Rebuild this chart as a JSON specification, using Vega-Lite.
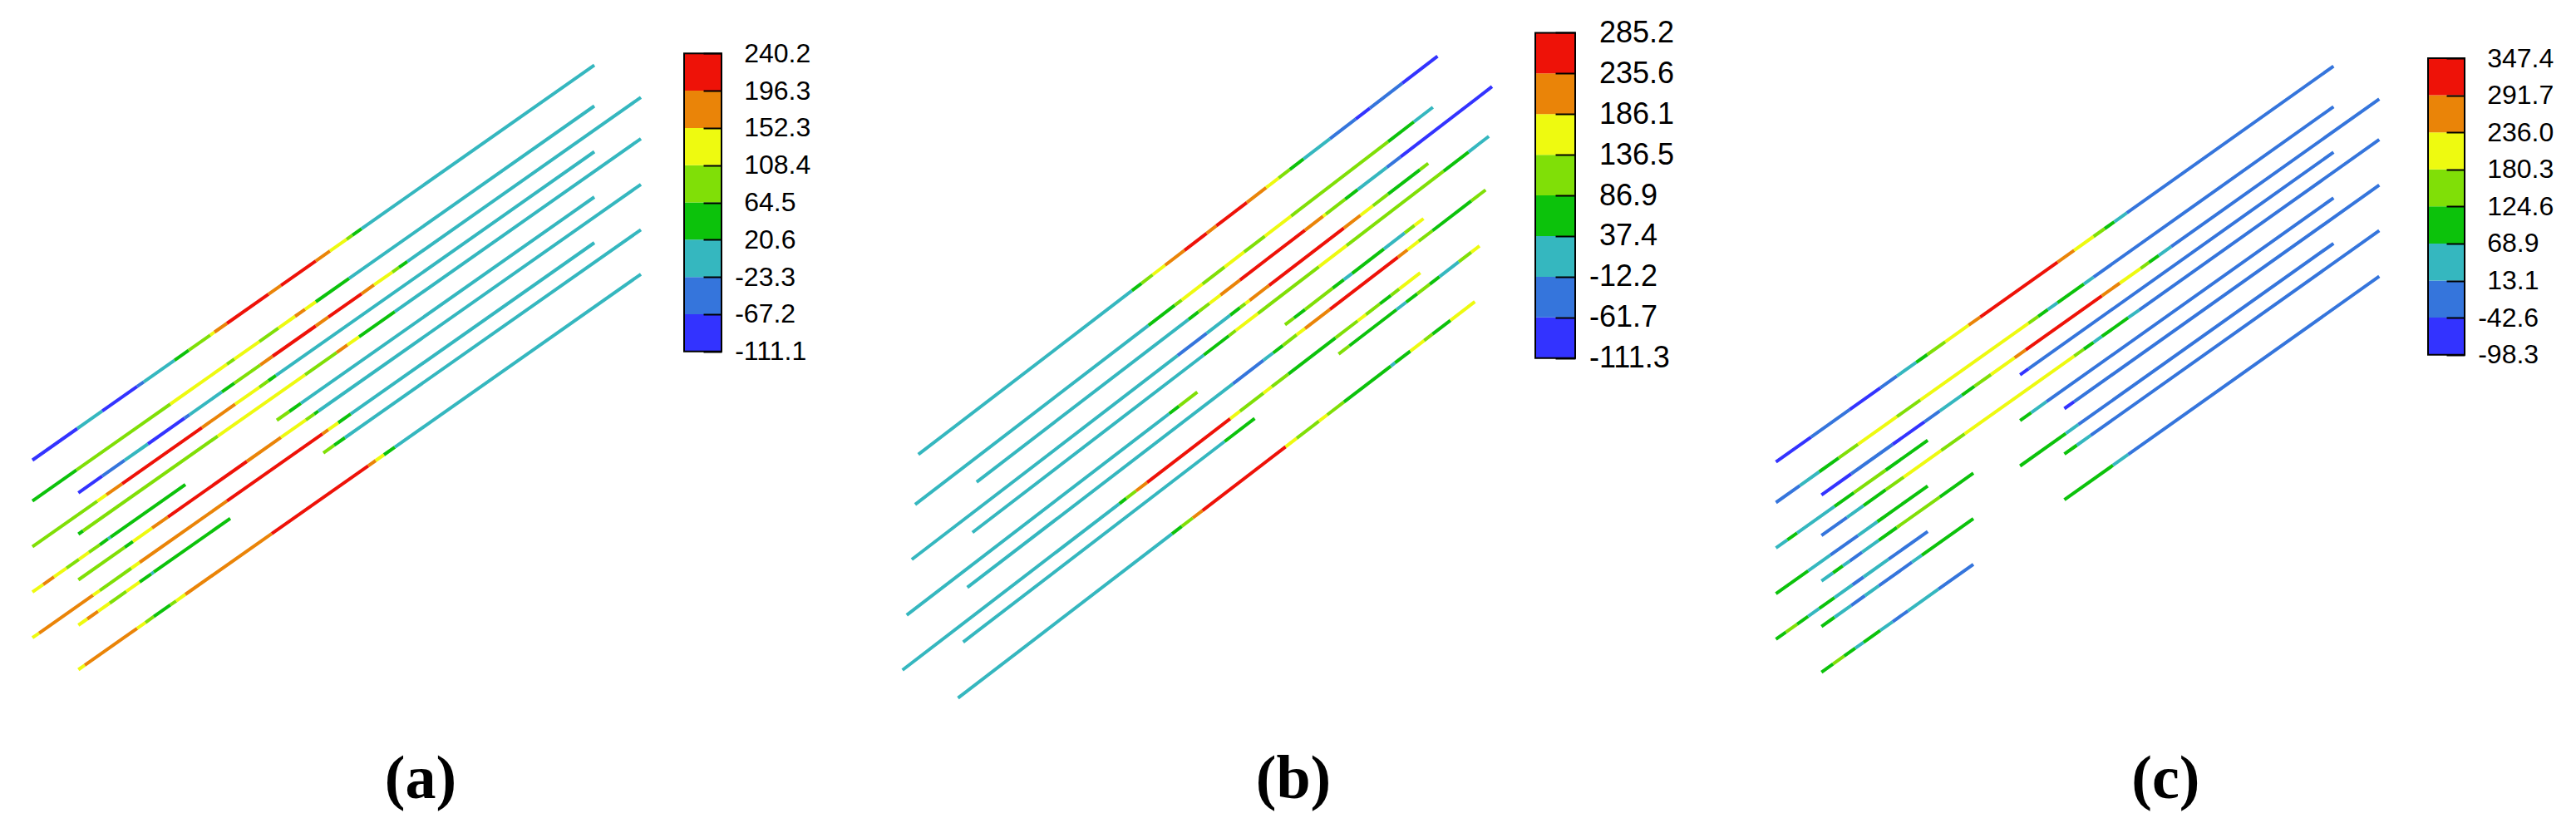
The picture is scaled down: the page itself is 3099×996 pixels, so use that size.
{
  "$schema": "https://vega.github.io/schema/vega-lite/v6.json",
  "padding": 0,
  "spacing": 0,
  "bounds": "flush",
  "config": {"view": {"stroke": null}},
  "datasets": {
    "pa": [
      {"l":"A1","x":39,"y":553.5,"c":"b1"},{"l":"A1","x":93,"y":515.5,"c":"cy"},{"l":"A1","x":123,"y":494.4,"c":"b1"},{"l":"A1","x":165,"y":464.9,"c":"b2"},{"l":"A1","x":173,"y":459.3,"c":"cy"},{"l":"A1","x":210,"y":433.3,"c":"gr"},{"l":"A1","x":227,"y":421.3,"c":"yg"},{"l":"A1","x":253,"y":403.1,"c":"ye"},{"l":"A1","x":258,"y":399.5,"c":"or"},{"l":"A1","x":273,"y":389.0,"c":"rd"},{"l":"A1","x":323,"y":353.8,"c":"or"},{"l":"A1","x":338,"y":343.3,"c":"rd"},{"l":"A1","x":380,"y":313.8,"c":"or"},{"l":"A1","x":397,"y":301.8,"c":"ye"},{"l":"A1","x":417,"y":287.8,"c":"yg"},{"l":"A1","x":424,"y":282.8,"c":"gr"},{"l":"A1","x":435,"y":275.1,"c":"cy"},{"l":"A1","x":715,"y":78.3,"c":null},
      {"l":"A2","x":39,"y":602.7,"c":"gr"},{"l":"A2","x":92,"y":565.4,"c":"yg"},{"l":"A2","x":205,"y":486.0,"c":"ye"},{"l":"A2","x":273,"y":438.2,"c":"yg"},{"l":"A2","x":282,"y":431.9,"c":"ye"},{"l":"A2","x":312,"y":410.8,"c":"yg"},{"l":"A2","x":335,"y":394.6,"c":"ye"},{"l":"A2","x":355,"y":380.5,"c":"or"},{"l":"A2","x":367,"y":372.1,"c":"ye"},{"l":"A2","x":380,"y":363.0,"c":"gr"},{"l":"A2","x":420,"y":334.9,"c":"cy"},{"l":"A2","x":715,"y":127.5,"c":null},
      {"l":"B1","x":94.3,"y":592.8,"c":"b1"},{"l":"B1","x":123,"y":572.6,"c":"b2"},{"l":"B1","x":150,"y":553.6,"c":"cy"},{"l":"B1","x":178,"y":534.0,"c":"b1"},{"l":"B1","x":222,"y":503.0,"c":"b2"},{"l":"B1","x":228,"y":498.8,"c":"cy"},{"l":"B1","x":267,"y":471.4,"c":"gr"},{"l":"B1","x":282,"y":460.8,"c":"yg"},{"l":"B1","x":313,"y":439.1,"c":"or"},{"l":"B1","x":328,"y":428.5,"c":"rd"},{"l":"B1","x":380,"y":392.0,"c":"or"},{"l":"B1","x":395,"y":381.4,"c":"rd"},{"l":"B1","x":435,"y":353.3,"c":"or"},{"l":"B1","x":450,"y":342.7,"c":"ye"},{"l":"B1","x":472,"y":327.3,"c":"yg"},{"l":"B1","x":480,"y":321.7,"c":"gr"},{"l":"B1","x":490,"y":314.6,"c":"cy"},{"l":"B1","x":771,"y":117.1,"c":null},
      {"l":"A3","x":39,"y":657.7,"c":"yg"},{"l":"A3","x":117,"y":602.9,"c":"ye"},{"l":"A3","x":128,"y":595.1,"c":"or"},{"l":"A3","x":147,"y":581.8,"c":"rd"},{"l":"A3","x":243,"y":514.3,"c":"or"},{"l":"A3","x":283,"y":486.2,"c":"ye"},{"l":"A3","x":312,"y":465.8,"c":"yg"},{"l":"A3","x":323,"y":458.0,"c":"gr"},{"l":"A3","x":332,"y":451.7,"c":"cy"},{"l":"A3","x":715,"y":182.5,"c":null},
      {"l":"B2","x":94.3,"y":642.5,"c":"gr"},{"l":"B2","x":100,"y":638.5,"c":"yg"},{"l":"B2","x":262,"y":524.6,"c":"ye"},{"l":"B2","x":367,"y":450.8,"c":"yg"},{"l":"B2","x":405,"y":424.1,"c":"or"},{"l":"B2","x":418,"y":414.9,"c":"ye"},{"l":"B2","x":432,"y":405.1,"c":"gr"},{"l":"B2","x":475,"y":374.9,"c":"cy"},{"l":"B2","x":771,"y":166.8,"c":null},
      {"l":"A4","x":39,"y":712.2,"c":"ye"},{"l":"A4","x":52,"y":703.1,"c":"or"},{"l":"A4","x":65,"y":693.9,"c":"ye"},{"l":"A4","x":80,"y":683.4,"c":"yg"},{"l":"A4","x":95,"y":672.8,"c":"ye"},{"l":"A4","x":107,"y":664.4,"c":"yg"},{"l":"A4","x":120,"y":655.3,"c":"gr"},{"l":"A4","x":130,"y":648.2,"c":"cy"},{"l":"A4","x":133,"y":646.1,"c":"gr"},{"l":"A4","x":223,"y":582.8,"c":null},{"l":"A4","x":333,"y":505.5,"c":"yg"},{"l":"A4","x":348,"y":495.0,"c":"gr"},{"l":"A4","x":362,"y":485.1,"c":"cy"},{"l":"A4","x":715,"y":237.0,"c":null},
      {"l":"B3","x":94.3,"y":697.5,"c":"yg"},{"l":"B3","x":150,"y":658.3,"c":"gr"},{"l":"B3","x":160,"y":651.3,"c":"ye"},{"l":"B3","x":183,"y":635.1,"c":"or"},{"l":"B3","x":202,"y":621.8,"c":"rd"},{"l":"B3","x":297,"y":555.0,"c":"or"},{"l":"B3","x":338,"y":526.2,"c":"ye"},{"l":"B3","x":368,"y":505.1,"c":"yg"},{"l":"B3","x":378,"y":498.1,"c":"gr"},{"l":"B3","x":383,"y":494.5,"c":"cy"},{"l":"B3","x":771,"y":221.8,"c":null},
      {"l":"A5","x":39,"y":767.2,"c":"ye"},{"l":"A5","x":47,"y":761.6,"c":"or"},{"l":"A5","x":112,"y":715.9,"c":"ye"},{"l":"A5","x":120,"y":710.3,"c":"yg"},{"l":"A5","x":158,"y":683.5,"c":"ye"},{"l":"A5","x":168,"y":676.5,"c":"or"},{"l":"A5","x":273,"y":602.7,"c":"rd"},{"l":"A5","x":388,"y":521.9,"c":"or"},{"l":"A5","x":395,"y":516.9,"c":"ye"},{"l":"A5","x":407,"y":508.5,"c":"gr"},{"l":"A5","x":422,"y":497.9,"c":"cy"},{"l":"A5","x":715,"y":292.0,"c":null},
      {"l":"B4","x":94.3,"y":752.0,"c":"ye"},{"l":"B4","x":105,"y":744.5,"c":"or"},{"l":"B4","x":118,"y":735.3,"c":"ye"},{"l":"B4","x":132,"y":725.5,"c":"yg"},{"l":"B4","x":152,"y":711.4,"c":"ye"},{"l":"B4","x":168,"y":700.2,"c":"gr"},{"l":"B4","x":182,"y":690.3,"c":"cy"},{"l":"B4","x":185,"y":688.2,"c":"gr"},{"l":"B4","x":277,"y":623.6,"c":null},{"l":"B4","x":389,"y":544.8,"c":"yg"},{"l":"B4","x":402,"y":535.7,"c":"gr"},{"l":"B4","x":415,"y":526.5,"c":"cy"},{"l":"B4","x":771,"y":276.3,"c":null},
      {"l":"B5","x":94.3,"y":805.5,"c":"ye"},{"l":"B5","x":102,"y":800.1,"c":"or"},{"l":"B5","x":165,"y":755.8,"c":"ye"},{"l":"B5","x":175,"y":748.8,"c":"yg"},{"l":"B5","x":185,"y":741.7,"c":"gr"},{"l":"B5","x":205,"y":727.7,"c":"yg"},{"l":"B5","x":212,"y":722.8,"c":"ye"},{"l":"B5","x":223,"y":715.0,"c":"or"},{"l":"B5","x":327,"y":641.9,"c":"rd"},{"l":"B5","x":443,"y":560.4,"c":"or"},{"l":"B5","x":452,"y":554.0,"c":"ye"},{"l":"B5","x":462,"y":547.0,"c":"gr"},{"l":"B5","x":475,"y":537.9,"c":"cy"},{"l":"B5","x":771,"y":329.8,"c":null}
    ],
    "pb": [
      {"l":"A1","x":1104.8,"y":546.7,"c":"cy"},{"l":"A1","x":1361.7,"y":349.7,"c":"gr"},{"l":"A1","x":1373.3,"y":340.8,"c":"yg"},{"l":"A1","x":1386.7,"y":330.5,"c":"ye"},{"l":"A1","x":1401.7,"y":319.0,"c":"or"},{"l":"A1","x":1425,"y":301.1,"c":"rd"},{"l":"A1","x":1451.7,"y":280.6,"c":"or"},{"l":"A1","x":1463.3,"y":271.7,"c":"rd"},{"l":"A1","x":1500,"y":243.6,"c":"or"},{"l":"A1","x":1523.3,"y":225.7,"c":"ye"},{"l":"A1","x":1538.3,"y":214.2,"c":"yg"},{"l":"A1","x":1551.7,"y":203.9,"c":"gr"},{"l":"A1","x":1568.3,"y":191.2,"c":"cy"},{"l":"A1","x":1600,"y":166.9,"c":"b2"},{"l":"A1","x":1631,"y":143.1,"c":"b1"},{"l":"A1","x":1648,"y":130.1,"c":"b2"},{"l":"A1","x":1687,"y":100.2,"c":"b1"},{"l":"A1","x":1729.4,"y":67.6,"c":null},
      {"l":"A2","x":1100.9,"y":606.8,"c":"cy"},{"l":"A2","x":1381.7,"y":391.4,"c":"gr"},{"l":"A2","x":1413.3,"y":367.2,"c":"yg"},{"l":"A2","x":1421.7,"y":360.8,"c":"ye"},{"l":"A2","x":1446.7,"y":341.6,"c":"yg"},{"l":"A2","x":1473.3,"y":321.2,"c":"ye"},{"l":"A2","x":1496.7,"y":303.2,"c":"yg"},{"l":"A2","x":1521.7,"y":284.1,"c":"ye"},{"l":"A2","x":1553.3,"y":259.8,"c":"yg"},{"l":"A2","x":1670,"y":170.3,"c":"gr"},{"l":"A2","x":1701,"y":146.5,"c":"cy"},{"l":"A2","x":1723.8,"y":129.0,"c":null},
      {"l":"B1","x":1174.9,"y":579.8,"c":"cy"},{"l":"B1","x":1430,"y":384.1,"c":"gr"},{"l":"B1","x":1441.7,"y":375.2,"c":"yg"},{"l":"B1","x":1455,"y":365.0,"c":"ye"},{"l":"B1","x":1468.3,"y":354.8,"c":"or"},{"l":"B1","x":1491.7,"y":336.8,"c":"rd"},{"l":"B1","x":1570,"y":276.8,"c":"or"},{"l":"B1","x":1591.7,"y":260.1,"c":"ye"},{"l":"B1","x":1595,"y":257.6,"c":"yg"},{"l":"B1","x":1618.3,"y":239.7,"c":"gr"},{"l":"B1","x":1633.3,"y":228.2,"c":"cy"},{"l":"B1","x":1668.3,"y":201.4,"c":"b2"},{"l":"B1","x":1685,"y":188.6,"c":"b1"},{"l":"B1","x":1795,"y":104.2,"c":null},
      {"l":"A3","x":1096.9,"y":673.0,"c":"cy"},{"l":"A3","x":1416.7,"y":427.7,"c":"b2"},{"l":"A3","x":1451.7,"y":400.9,"c":"cy"},{"l":"A3","x":1480,"y":379.2,"c":"gr"},{"l":"A3","x":1491.7,"y":370.2,"c":"yg"},{"l":"A3","x":1498.3,"y":365.1,"c":"ye"},{"l":"A3","x":1503.3,"y":361.3,"c":"or"},{"l":"A3","x":1526.7,"y":343.3,"c":"rd"},{"l":"A3","x":1616.7,"y":274.3,"c":"or"},{"l":"A3","x":1636.7,"y":259.0,"c":"ye"},{"l":"A3","x":1651.7,"y":247.5,"c":"yg"},{"l":"A3","x":1670,"y":233.4,"c":"gr"},{"l":"A3","x":1708.3,"y":204.1,"c":"yg"},{"l":"A3","x":1718.2,"y":196.5,"c":null},
      {"l":"B2","x":1169.9,"y":640.5,"c":"cy"},{"l":"B2","x":1448.3,"y":427.0,"c":"gr"},{"l":"B2","x":1478.3,"y":404.0,"c":"yg"},{"l":"B2","x":1486.7,"y":397.5,"c":"ye"},{"l":"B2","x":1513.3,"y":377.1,"c":"yg"},{"l":"B2","x":1586.7,"y":320.8,"c":"ye"},{"l":"B2","x":1620,"y":295.3,"c":"yg"},{"l":"B2","x":1736.7,"y":205.8,"c":"gr"},{"l":"B2","x":1766.7,"y":182.8,"c":"cy"},{"l":"B2","x":1791.1,"y":164.0,"c":null},
      {"l":"A4","x":1090.8,"y":739.8,"c":"cy"},{"l":"A4","x":1406.7,"y":497.5,"c":"gr"},{"l":"A4","x":1418.3,"y":488.6,"c":"yg"},{"l":"A4","x":1440.4,"y":471.7,"c":null},{"l":"A4","x":1545.9,"y":390.7,"c":"yg"},{"l":"A4","x":1556.7,"y":382.5,"c":"gr"},{"l":"A4","x":1570,"y":372.3,"c":"yg"},{"l":"A4","x":1603.3,"y":346.7,"c":"gr"},{"l":"A4","x":1616.7,"y":336.4,"c":"cy"},{"l":"A4","x":1626.7,"y":328.8,"c":"gr"},{"l":"A4","x":1665,"y":299.4,"c":"cy"},{"l":"A4","x":1690,"y":280.2,"c":"yg"},{"l":"A4","x":1701.7,"y":271.2,"c":"ye"},{"l":"A4","x":1712.5,"y":263.0,"c":null},
      {"l":"B3","x":1163.7,"y":706.7,"c":"cy"},{"l":"B3","x":1483.3,"y":461.6,"c":"b2"},{"l":"B3","x":1520,"y":433.4,"c":"cy"},{"l":"B3","x":1531.7,"y":424.5,"c":"gr"},{"l":"B3","x":1543.3,"y":415.6,"c":"yg"},{"l":"B3","x":1560,"y":402.7,"c":"ye"},{"l":"B3","x":1570,"y":395.1,"c":"or"},{"l":"B3","x":1600,"y":372.1,"c":"rd"},{"l":"B3","x":1681.7,"y":309.4,"c":"or"},{"l":"B3","x":1693.3,"y":300.5,"c":"ye"},{"l":"B3","x":1706.7,"y":290.2,"c":"yg"},{"l":"B3","x":1723.3,"y":277.5,"c":"gr"},{"l":"B3","x":1770,"y":241.7,"c":"yg"},{"l":"B3","x":1787.2,"y":228.5,"c":null},
      {"l":"A5","x":1085.7,"y":806.0,"c":"cy"},{"l":"A5","x":1346.7,"y":605.8,"c":"gr"},{"l":"A5","x":1355,"y":599.4,"c":"yg"},{"l":"A5","x":1366.7,"y":590.5,"c":"or"},{"l":"A5","x":1380,"y":580.3,"c":"rd"},{"l":"A5","x":1480,"y":503.6,"c":"ye"},{"l":"A5","x":1491.7,"y":494.6,"c":"yg"},{"l":"A5","x":1520,"y":472.9,"c":"ye"},{"l":"A5","x":1530,"y":465.2,"c":"yg"},{"l":"A5","x":1550,"y":449.9,"c":"gr"},{"l":"A5","x":1606.7,"y":406.4,"c":"yg"},{"l":"A5","x":1633.3,"y":386.0,"c":"ye"},{"l":"A5","x":1643.3,"y":378.3,"c":"yg"},{"l":"A5","x":1660,"y":365.5,"c":"gr"},{"l":"A5","x":1673.3,"y":355.3,"c":"yg"},{"l":"A5","x":1683.3,"y":347.6,"c":"ye"},{"l":"A5","x":1708.6,"y":328.2,"c":null},
      {"l":"B4","x":1158.7,"y":772.3,"c":"cy"},{"l":"B4","x":1473.3,"y":531.0,"c":"gr"},{"l":"B4","x":1509.4,"y":503.3,"c":null},{"l":"B4","x":1610.4,"y":425.8,"c":"yg"},{"l":"B4","x":1623.3,"y":416.0,"c":"gr"},{"l":"B4","x":1680,"y":372.5,"c":"cy"},{"l":"B4","x":1691.7,"y":363.5,"c":"gr"},{"l":"B4","x":1705,"y":353.3,"c":"yg"},{"l":"B4","x":1720,"y":341.8,"c":"gr"},{"l":"B4","x":1731.7,"y":332.8,"c":"cy"},{"l":"B4","x":1755,"y":314.9,"c":"yg"},{"l":"B4","x":1770,"y":303.4,"c":"ye"},{"l":"B4","x":1779.9,"y":295.8,"c":null},
      {"l":"B5","x":1152.5,"y":839.7,"c":"cy"},{"l":"B5","x":1410,"y":642.2,"c":"gr"},{"l":"B5","x":1421.7,"y":633.2,"c":"yg"},{"l":"B5","x":1435,"y":623.0,"c":"or"},{"l":"B5","x":1446.7,"y":614.1,"c":"rd"},{"l":"B5","x":1546.7,"y":537.4,"c":"ye"},{"l":"B5","x":1560,"y":527.2,"c":"yg"},{"l":"B5","x":1586.7,"y":506.7,"c":"ye"},{"l":"B5","x":1596.7,"y":499.0,"c":"yg"},{"l":"B5","x":1616.7,"y":483.7,"c":"gr"},{"l":"B5","x":1673.3,"y":440.3,"c":"cy"},{"l":"B5","x":1678.3,"y":436.4,"c":"gr"},{"l":"B5","x":1696.7,"y":422.3,"c":"ye"},{"l":"B5","x":1713.3,"y":409.6,"c":"yg"},{"l":"B5","x":1723.3,"y":401.9,"c":"gr"},{"l":"B5","x":1745,"y":385.3,"c":"ye"},{"l":"B5","x":1774.3,"y":362.8,"c":null}
    ],
    "pc": [
      {"l":"A1","x":2136.2,"y":555.7,"c":"b1"},{"l":"A1","x":2178.3,"y":525.8,"c":"b2"},{"l":"A1","x":2225,"y":492.7,"c":"b1"},{"l":"A1","x":2261.7,"y":466.6,"c":"b2"},{"l":"A1","x":2281.7,"y":452.4,"c":"cy"},{"l":"A1","x":2305,"y":435.9,"c":"gr"},{"l":"A1","x":2318.3,"y":426.5,"c":"yg"},{"l":"A1","x":2340,"y":411.1,"c":"ye"},{"l":"A1","x":2368,"y":391.2,"c":"or"},{"l":"A1","x":2382,"y":381.3,"c":"rd"},{"l":"A1","x":2475,"y":315.3,"c":"or"},{"l":"A1","x":2495,"y":301.1,"c":"ye"},{"l":"A1","x":2518.3,"y":284.5,"c":"yg"},{"l":"A1","x":2531.7,"y":275.0,"c":"gr"},{"l":"A1","x":2543.3,"y":266.8,"c":"cy"},{"l":"A1","x":2558.3,"y":256.1,"c":"b2"},{"l":"A1","x":2807,"y":79.6,"c":null},
      {"l":"A2","x":2136.2,"y":604.5,"c":"b2"},{"l":"A2","x":2165,"y":584.1,"c":"cy"},{"l":"A2","x":2188.3,"y":567.5,"c":"gr"},{"l":"A2","x":2211.7,"y":550.9,"c":"yg"},{"l":"A2","x":2235,"y":534.4,"c":"ye"},{"l":"A2","x":2281.7,"y":501.2,"c":"yg"},{"l":"A2","x":2310,"y":481.2,"c":"ye"},{"l":"A2","x":2440,"y":388.9,"c":"yg"},{"l":"A2","x":2451.7,"y":380.6,"c":"gr"},{"l":"A2","x":2463.3,"y":372.4,"c":"cy"},{"l":"A2","x":2475,"y":364.1,"c":"gr"},{"l":"A2","x":2506.7,"y":341.6,"c":"cy"},{"l":"A2","x":2518.3,"y":333.3,"c":"b2"},{"l":"A2","x":2807,"y":128.4,"c":null},
      {"l":"B1","x":2191,"y":595.3,"c":"b1"},{"l":"B1","x":2226.7,"y":570.0,"c":"b2"},{"l":"B1","x":2276.7,"y":534.5,"c":"b1"},{"l":"B1","x":2315,"y":507.3,"c":"b2"},{"l":"B1","x":2333.3,"y":494.3,"c":"cy"},{"l":"B1","x":2360,"y":475.4,"c":"gr"},{"l":"B1","x":2375,"y":464.7,"c":"yg"},{"l":"B1","x":2395,"y":450.5,"c":"ye"},{"l":"B1","x":2423.3,"y":430.4,"c":"or"},{"l":"B1","x":2436.7,"y":420.9,"c":"rd"},{"l":"B1","x":2528.3,"y":355.9,"c":"or"},{"l":"B1","x":2550,"y":340.5,"c":"ye"},{"l":"B1","x":2575,"y":322.8,"c":"yg"},{"l":"B1","x":2585,"y":315.7,"c":"gr"},{"l":"B1","x":2596.7,"y":307.4,"c":"cy"},{"l":"B1","x":2611.7,"y":296.7,"c":"b2"},{"l":"B1","x":2862,"y":119.1,"c":null},
      {"l":"B2","x":2191,"y":644.1,"c":"b2"},{"l":"B2","x":2221.7,"y":622.3,"c":"cy"},{"l":"B2","x":2241.7,"y":608.1,"c":"gr"},{"l":"B2","x":2268.3,"y":589.2,"c":"yg"},{"l":"B2","x":2290,"y":573.8,"c":"ye"},{"l":"B2","x":2335,"y":541.9,"c":"yg"},{"l":"B2","x":2363.3,"y":521.8,"c":"ye"},{"l":"B2","x":2495,"y":428.4,"c":"yg"},{"l":"B2","x":2506.7,"y":420.0,"c":"gr"},{"l":"B2","x":2518.3,"y":411.8,"c":"cy"},{"l":"B2","x":2528.3,"y":404.7,"c":"gr"},{"l":"B2","x":2560,"y":382.2,"c":"cy"},{"l":"B2","x":2573.3,"y":372.8,"c":"b2"},{"l":"B2","x":2862,"y":167.9,"c":null},
      {"l":"A3","x":2136.2,"y":659.2,"c":"cy"},{"l":"A3","x":2150,"y":649.4,"c":"gr"},{"l":"A3","x":2161.7,"y":641.1,"c":"cy"},{"l":"A3","x":2206.7,"y":609.2,"c":"gr"},{"l":"A3","x":2230,"y":592.6,"c":"yg"},{"l":"A3","x":2268.3,"y":565.5,"c":"gr"},{"l":"A3","x":2318.8,"y":529.6,"c":null},{"l":"A3","x":2429.9,"y":450.8,"c":"b1"},{"l":"A3","x":2440,"y":443.6,"c":"b2"},{"l":"A3","x":2807,"y":183.1,"c":null},
      {"l":"B3","x":2191,"y":698.9,"c":"cy"},{"l":"B3","x":2205,"y":689.0,"c":"gr"},{"l":"B3","x":2216.7,"y":680.7,"c":"cy"},{"l":"B3","x":2225,"y":674.8,"c":"b2"},{"l":"B3","x":2240,"y":664.1,"c":"cy"},{"l":"B3","x":2260,"y":649.9,"c":"gr"},{"l":"B3","x":2281.7,"y":634.5,"c":"yg"},{"l":"B3","x":2333.3,"y":597.9,"c":"gr"},{"l":"B3","x":2373.7,"y":569.2,"c":null},{"l":"B3","x":2483.2,"y":491.5,"c":"b1"},{"l":"B3","x":2495,"y":483.2,"c":"b2"},{"l":"B3","x":2862,"y":222.7,"c":null},
      {"l":"A4","x":2136.2,"y":714.2,"c":"gr"},{"l":"A4","x":2175,"y":686.7,"c":"cy"},{"l":"A4","x":2201.7,"y":667.7,"c":"b2"},{"l":"A4","x":2235,"y":644.1,"c":"cy"},{"l":"A4","x":2258.3,"y":627.5,"c":"gr"},{"l":"A4","x":2318.8,"y":584.6,"c":null},{"l":"A4","x":2429.9,"y":505.8,"c":"gr"},{"l":"A4","x":2443.3,"y":496.3,"c":"cy"},{"l":"A4","x":2461.7,"y":483.2,"c":"b2"},{"l":"A4","x":2807,"y":238.1,"c":null},
      {"l":"B4","x":2191,"y":753.6,"c":"gr"},{"l":"B4","x":2206.7,"y":742.5,"c":"cy"},{"l":"B4","x":2226.7,"y":728.3,"c":"b2"},{"l":"B4","x":2243.3,"y":716.5,"c":"cy"},{"l":"B4","x":2260,"y":704.6,"c":"b2"},{"l":"B4","x":2300,"y":676.2,"c":"cy"},{"l":"B4","x":2311.7,"y":667.9,"c":"gr"},{"l":"B4","x":2373.7,"y":623.9,"c":null},{"l":"B4","x":2483.2,"y":546.2,"c":"gr"},{"l":"B4","x":2498.3,"y":535.5,"c":"cy"},{"l":"B4","x":2515,"y":523.7,"c":"b2"},{"l":"B4","x":2862,"y":277.4,"c":null},
      {"l":"A5","x":2136.2,"y":768.9,"c":"gr"},{"l":"A5","x":2148.3,"y":760.3,"c":"yg"},{"l":"A5","x":2161.7,"y":750.8,"c":"gr"},{"l":"A5","x":2175,"y":741.4,"c":"cy"},{"l":"A5","x":2188.3,"y":731.9,"c":"gr"},{"l":"A5","x":2206.7,"y":718.9,"c":"cy"},{"l":"A5","x":2228.3,"y":703.5,"c":"b2"},{"l":"A5","x":2241.7,"y":694.0,"c":"cy"},{"l":"A5","x":2271.7,"y":672.7,"c":"b2"},{"l":"A5","x":2318.8,"y":639.3,"c":null},{"l":"A5","x":2429.9,"y":560.5,"c":"gr"},{"l":"A5","x":2485,"y":521.4,"c":"cy"},{"l":"A5","x":2500,"y":510.7,"c":"b2"},{"l":"A5","x":2807,"y":292.8,"c":null},
      {"l":"B5","x":2191,"y":808.6,"c":"gr"},{"l":"B5","x":2205,"y":798.7,"c":"yg"},{"l":"B5","x":2218.3,"y":789.2,"c":"gr"},{"l":"B5","x":2231.7,"y":779.7,"c":"cy"},{"l":"B5","x":2241.7,"y":772.6,"c":"gr"},{"l":"B5","x":2261.7,"y":758.4,"c":"cy"},{"l":"B5","x":2276.7,"y":747.8,"c":"b2"},{"l":"B5","x":2295,"y":734.8,"c":"cy"},{"l":"B5","x":2331.7,"y":708.7,"c":"b2"},{"l":"B5","x":2373.7,"y":678.9,"c":null},{"l":"B5","x":2483.2,"y":601.2,"c":"gr"},{"l":"B5","x":2541.7,"y":559.7,"c":"cy"},{"l":"B5","x":2560,"y":546.7,"c":"b2"},{"l":"B5","x":2862,"y":332.4,"c":null}
    ],
    "la": [
      {"lo":-111.1,"hi":-67.2,"c":"b1"},{"lo":-67.2,"hi":-23.3,"c":"b2"},{"lo":-23.3,"hi":20.6,"c":"cy"},{"lo":20.6,"hi":64.5,"c":"gr"},{"lo":64.5,"hi":108.4,"c":"yg"},{"lo":108.4,"hi":152.3,"c":"ye"},{"lo":152.3,"hi":196.3,"c":"or"},{"lo":196.3,"hi":240.2,"c":"rd"}
    ],
    "lb": [
      {"lo":-111.3,"hi":-61.7,"c":"b1"},{"lo":-61.7,"hi":-12.2,"c":"b2"},{"lo":-12.2,"hi":37.4,"c":"cy"},{"lo":37.4,"hi":86.9,"c":"gr"},{"lo":86.9,"hi":136.5,"c":"yg"},{"lo":136.5,"hi":186.1,"c":"ye"},{"lo":186.1,"hi":235.6,"c":"or"},{"lo":235.6,"hi":285.2,"c":"rd"}
    ],
    "lc": [
      {"lo":-98.3,"hi":-42.6,"c":"b1"},{"lo":-42.6,"hi":13.1,"c":"b2"},{"lo":13.1,"hi":68.9,"c":"cy"},{"lo":68.9,"hi":124.6,"c":"gr"},{"lo":124.6,"hi":180.3,"c":"yg"},{"lo":180.3,"hi":236.0,"c":"ye"},{"lo":236.0,"hi":291.7,"c":"or"},{"lo":291.7,"hi":347.4,"c":"rd"}
    ]
  },
  "hconcat": [
    {
      "width": 823, "height": 880,
      "data": {"name": "pa"},
      "title": {"text": "(a)", "orient": "bottom", "anchor": "middle", "frame": "group", "dx": 94.5, "offset": 80, "baseline": "alphabetic", "font": "Liberation Serif", "fontSize": 74, "fontWeight": "bold", "color": "black"},
      "transform": [
        {"window": [{"op": "lead", "field": "x", "as": "x2"}, {"op": "lead", "field": "y", "as": "y2"}], "groupby": ["l"], "sort": [{"field": "x", "order": "ascending"}]},
        {"filter": "datum.c != null"}
      ],
      "mark": {"type": "rule", "strokeWidth": 4},
      "encoding": {
        "x": {"field": "x", "type": "quantitative", "scale": {"domain": [0, 823], "nice": false, "zero": false}, "axis": null},
        "x2": {"field": "x2"},
        "y": {"field": "y", "type": "quantitative", "scale": {"domain": [0, 880], "nice": false, "zero": false, "reverse": true}, "axis": null},
        "y2": {"field": "y2"},
        "color": {"field": "c", "type": "nominal", "scale": {"domain": ["b1","b2","cy","gr","yg","ye","or","rd"], "range": ["#3333ff","#3575dc","#35b7bf","#0cc20b","#80df07","#eefa10","#ea8408","#ee1208"]}, "legend": null}
      }
    },
    {
      "width": 45, "height": 996,
      "data": {"name": "la"},
      "encoding": {
        "y": {"field": "lo", "type": "quantitative", "scale": {"domain": [-673.05, 303.23], "nice": false, "zero": false},
          "axis": {"orient": "right", "values": [-111.1,-67.2,-23.3,20.6,64.5,108.4,152.3,196.3,240.2], "format": ".1f", "labelExpr": "replace(datum.label, '\u2212', '-')", "domain": false, "grid": false, "title": null, "ticks": true, "tickSize": -22, "tickWidth": 2, "tickColor": "black", "labelAlign": "left", "labelBaseline": "middle", "labelPadding": {"condition": {"test": "datum.value < 0", "value": 37.7}, "value": 48.7}, "labelFontSize": 32, "labelFont": "Liberation Sans", "labelColor": "black", "labelOverlap": false, "labelFlush": false, "labelBound": false, "zindex": 2}},
        "y2": {"field": "hi"}
      },
      "layer": [
        {"mark": {"type": "rect"}, "encoding": {"color": {"field": "c", "type": "nominal", "scale": {"domain": ["b1","b2","cy","gr","yg","ye","or","rd"], "range": ["#3333ff","#3575dc","#35b7bf","#0cc20b","#80df07","#eefa10","#ea8408","#ee1208"]}, "legend": null}}},
        {"data": {"values": [{"lo": -111.1, "hi": 240.2}]}, "mark": {"type": "rect", "filled": false, "stroke": "black", "strokeWidth": 2}}
      ]
    },
    {
      "width": 978.7, "height": 880,
      "data": {"name": "pb"},
      "title": {"text": "(b)", "orient": "bottom", "anchor": "middle", "frame": "group", "dx": 198.65, "offset": 80, "baseline": "alphabetic", "font": "Liberation Serif", "fontSize": 74, "fontWeight": "bold", "color": "black"},
      "transform": [
        {"window": [{"op": "lead", "field": "x", "as": "x2"}, {"op": "lead", "field": "y", "as": "y2"}], "groupby": ["l"], "sort": [{"field": "x", "order": "ascending"}]},
        {"filter": "datum.c != null"}
      ],
      "mark": {"type": "rule", "strokeWidth": 4},
      "encoding": {
        "x": {"field": "x", "type": "quantitative", "scale": {"domain": [868, 1846.7], "nice": false, "zero": false}, "axis": null},
        "x2": {"field": "x2"},
        "y": {"field": "y", "type": "quantitative", "scale": {"domain": [0, 880], "nice": false, "zero": false, "reverse": true}, "axis": null},
        "y2": {"field": "y2"},
        "color": {"field": "c", "type": "nominal", "scale": {"domain": ["b1","b2","cy","gr","yg","ye","or","rd"], "range": ["#3333ff","#3575dc","#35b7bf","#0cc20b","#80df07","#eefa10","#ea8408","#ee1208"]}, "legend": null}
      }
    },
    {
      "width": 48, "height": 996,
      "data": {"name": "lb"},
      "encoding": {
        "y": {"field": "lo", "type": "quantitative", "scale": {"domain": [-684.11, 325.12], "nice": false, "zero": false},
          "axis": {"orient": "right", "values": [-111.3,-61.7,-12.2,37.4,86.9,136.5,186.1,235.6,285.2], "format": ".1f", "labelExpr": "replace(datum.label, '\u2212', '-')", "domain": false, "grid": false, "title": null, "ticks": true, "tickSize": -24, "tickWidth": 2, "tickColor": "black", "labelAlign": "left", "labelBaseline": "middle", "labelPadding": {"condition": {"test": "datum.value < 0", "value": 40.5}, "value": 52.5}, "labelFontSize": 36, "labelFont": "Liberation Sans", "labelColor": "black", "labelOverlap": false, "labelFlush": false, "labelBound": false, "zindex": 2}},
        "y2": {"field": "hi"}
      },
      "layer": [
        {"mark": {"type": "rect"}, "encoding": {"color": {"field": "c", "type": "nominal", "scale": {"domain": ["b1","b2","cy","gr","yg","ye","or","rd"], "range": ["#3333ff","#3575dc","#35b7bf","#0cc20b","#80df07","#eefa10","#ea8408","#ee1208"]}, "legend": null}}},
        {"data": {"values": [{"lo": -111.3, "hi": 285.2}]}, "mark": {"type": "rect", "filled": false, "stroke": "black", "strokeWidth": 2}}
      ]
    },
    {
      "width": 1025.3, "height": 880,
      "data": {"name": "pc"},
      "title": {"text": "(c)", "orient": "bottom", "anchor": "middle", "frame": "group", "dx": 197.65, "offset": 80, "baseline": "alphabetic", "font": "Liberation Serif", "fontSize": 74, "fontWeight": "bold", "color": "black"},
      "transform": [
        {"window": [{"op": "lead", "field": "x", "as": "x2"}, {"op": "lead", "field": "y", "as": "y2"}], "groupby": ["l"], "sort": [{"field": "x", "order": "ascending"}]},
        {"filter": "datum.c != null"}
      ],
      "mark": {"type": "rule", "strokeWidth": 4},
      "encoding": {
        "x": {"field": "x", "type": "quantitative", "scale": {"domain": [1894.7, 2920], "nice": false, "zero": false}, "axis": null},
        "x2": {"field": "x2"},
        "y": {"field": "y", "type": "quantitative", "scale": {"domain": [0, 880], "nice": false, "zero": false, "reverse": true}, "axis": null},
        "y2": {"field": "y2"},
        "color": {"field": "c", "type": "nominal", "scale": {"domain": ["b1","b2","cy","gr","yg","ye","or","rd"], "range": ["#3333ff","#3575dc","#35b7bf","#0cc20b","#80df07","#eefa10","#ea8408","#ee1208"]}, "legend": null}
      }
    },
    {
      "width": 44, "height": 996,
      "data": {"name": "lc"},
      "encoding": {
        "y": {"field": "lo", "type": "quantitative", "scale": {"domain": [-809.65, 434.87], "nice": false, "zero": false},
          "axis": {"orient": "right", "values": [-98.3,-42.6,13.1,68.9,124.6,180.3,236.0,291.7,347.4], "format": ".1f", "labelExpr": "replace(datum.label, '\u2212', '-')", "domain": false, "grid": false, "title": null, "ticks": true, "tickSize": -22, "tickWidth": 2, "tickColor": "black", "labelAlign": "left", "labelBaseline": "middle", "labelPadding": {"condition": {"test": "datum.value < 0", "value": 37.7}, "value": 48.7}, "labelFontSize": 32, "labelFont": "Liberation Sans", "labelColor": "black", "labelOverlap": false, "labelFlush": false, "labelBound": false, "zindex": 2}},
        "y2": {"field": "hi"}
      },
      "layer": [
        {"mark": {"type": "rect"}, "encoding": {"color": {"field": "c", "type": "nominal", "scale": {"domain": ["b1","b2","cy","gr","yg","ye","or","rd"], "range": ["#3333ff","#3575dc","#35b7bf","#0cc20b","#80df07","#eefa10","#ea8408","#ee1208"]}, "legend": null}}},
        {"data": {"values": [{"lo": -98.3, "hi": 347.4}]}, "mark": {"type": "rect", "filled": false, "stroke": "black", "strokeWidth": 2}}
      ]
    }
  ]
}
